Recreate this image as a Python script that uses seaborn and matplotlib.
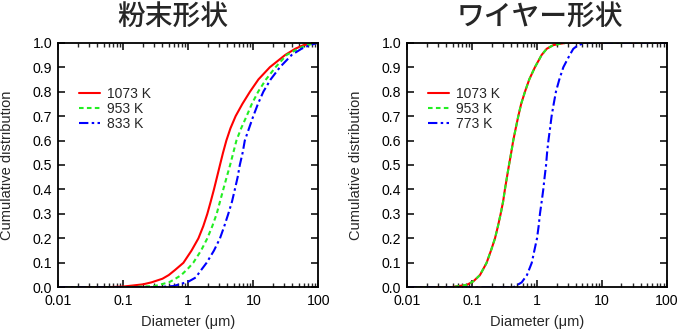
import matplotlib
matplotlib.use("Agg")
import matplotlib.pyplot as plt
import seaborn as sns
import numpy as np
from matplotlib.ticker import LogLocator, FixedLocator, FixedFormatter, NullFormatter

# ---------------- data ----------------
panel_titles = ["粉末形状", "ワイヤー形状"]
xtick_values = [0.01, 0.1, 1, 10, 100]
xtick_labels = ["0.01", "0.1", "1", "10", "100"]
ytick_values = [0.0, 0.1, 0.2, 0.3, 0.4, 0.5, 0.6, 0.7, 0.8, 0.9, 1.0]

# powder shape
powder_labels = ["1073 K", "953 K", "833 K"]
powder_1073_d = [0.01, 0.05, 0.1, 0.2, 0.27, 0.4, 0.5, 0.62, 0.84, 1.12, 1.43, 1.70, 1.96, 2.21, 2.48, 2.76, 3.07,
                 3.42, 3.85, 4.45, 5.35, 6.8, 8.9, 12, 18, 31, 44, 59, 100]
powder_1073_v = [0.0, 0.0, 0.003, 0.012, 0.02, 0.035, 0.05, 0.07, 0.10, 0.15, 0.20, 0.25, 0.30, 0.35, 0.40, 0.45, 0.50,
                 0.55, 0.60, 0.65, 0.70, 0.75, 0.80, 0.85, 0.90, 0.95, 0.975, 0.99, 1.0]
powder_953_d = [0.01, 0.1, 0.3, 0.5, 0.59, 0.78, 1.0, 1.19, 1.57, 1.96, 2.34, 2.73, 3.07, 3.45, 3.89, 4.4, 4.92,
                5.5, 6.5, 7.9, 9.5, 11.9, 15.7, 22, 32.6, 49, 66, 100]
powder_953_v = [0.0, 0.0, 0.005, 0.02, 0.03, 0.05, 0.078, 0.10, 0.15, 0.20, 0.25, 0.30, 0.35, 0.40, 0.45, 0.50, 0.55,
                0.60, 0.65, 0.70, 0.75, 0.80, 0.85, 0.90, 0.95, 0.975, 0.99, 1.0]
powder_833_d = [0.01, 0.3, 0.59, 1.0, 1.3, 1.51, 1.91, 2.48, 3.07, 3.58, 4.12, 4.7, 5.2, 5.74, 6.2, 6.85, 7.4,
                8.6, 10, 11.8, 14.3, 18.5, 25.7, 39, 55, 74, 100]
powder_833_v = [0.0, 0.0, 0.005, 0.023, 0.04, 0.064, 0.10, 0.15, 0.20, 0.25, 0.30, 0.35, 0.40, 0.45, 0.50, 0.55, 0.60,
                0.65, 0.70, 0.75, 0.80, 0.85, 0.90, 0.95, 0.975, 0.99, 1.0]

# wire shape
wire_labels = ["1073 K", "953 K", "773 K"]
wire_1073_d = [0.01, 0.046, 0.083, 0.105, 0.132, 0.167, 0.195, 0.225, 0.25, 0.275, 0.30, 0.32, 0.344, 0.37, 0.40,
               0.43, 0.47, 0.515, 0.57, 0.653, 0.76, 0.93, 1.18, 1.41, 1.78, 2.2, 2.9, 100]
wire_1073_v = [0.0, 0.0, 0.01, 0.025, 0.05, 0.10, 0.15, 0.20, 0.25, 0.30, 0.35, 0.40, 0.45, 0.50, 0.55,
               0.60, 0.65, 0.70, 0.75, 0.80, 0.85, 0.90, 0.95, 0.975, 0.99, 0.995, 1.0, 1.0]
wire_953_d = [0.01, 0.046, 0.083, 0.105, 0.132, 0.167, 0.195, 0.225, 0.25, 0.275, 0.30, 0.32, 0.344, 0.37, 0.40,
              0.43, 0.47, 0.515, 0.57, 0.653, 0.76, 0.93, 1.18, 1.41, 1.78, 2.2, 2.9, 100]
wire_953_v = [0.0, 0.0, 0.01, 0.025, 0.05, 0.10, 0.15, 0.20, 0.25, 0.30, 0.35, 0.40, 0.45, 0.50, 0.55,
              0.60, 0.65, 0.70, 0.75, 0.80, 0.85, 0.90, 0.95, 0.975, 0.99, 0.995, 1.0, 1.0]
wire_773_d = [0.01, 0.43, 0.58, 0.70, 0.83, 0.91, 1.0, 1.06, 1.11, 1.18, 1.25, 1.31, 1.38, 1.43, 1.5, 1.59, 1.68,
              1.81, 1.96, 2.21, 2.55, 3.2, 3.63, 4.3, 5.8, 100]
wire_773_v = [0.0, 0.0, 0.02, 0.05, 0.10, 0.15, 0.20, 0.25, 0.30, 0.35, 0.40, 0.45, 0.50, 0.55, 0.60, 0.65, 0.70,
              0.75, 0.80, 0.85, 0.90, 0.95, 0.975, 0.99, 1.0, 1.0]

# ---------------- styling ----------------
sns.set_style("ticks")
plt.rcParams["font.family"] = ["Liberation Sans", "DejaVu Sans", "Noto Sans CJK JP"]

colors = ["#ff0000", "#22ee22", "#0000ff"]
styles = ["-", (0, (2.2, 1.6)), (0, (4.5, 1.6, 1.2, 1.6))]

fig = plt.figure(figsize=(7.0, 3.34), dpi=100)
ax_l = fig.add_axes([58.3 / 700, 1 - 287.3 / 334, 260 / 700, 244.6 / 334])
ax_r = fig.add_axes([407.3 / 700, 1 - 287.3 / 334, 259.4 / 700, 244.6 / 334])

panels = [
    (ax_l, powder_labels, [(powder_1073_d, powder_1073_v), (powder_953_d, powder_953_v), (powder_833_d, powder_833_v)]),
    (ax_r, wire_labels, [(wire_1073_d, wire_1073_v), (wire_953_d, wire_953_v), (wire_773_d, wire_773_v)]),
]

for ax, labels, series in panels:
    ax.set_xscale("log")
    for (d, v), lab, c, ls in zip(series, labels, colors, styles):
        sns.lineplot(x=d, y=v, ax=ax, color=c, linestyle=ls, linewidth=1.5, label=lab, sort=False)
    ax.set_xlim(0.01, 100)
    ax.set_ylim(0.0, 1.0)
    ax.xaxis.set_major_locator(FixedLocator(xtick_values))
    ax.xaxis.set_major_formatter(FixedFormatter(xtick_labels))
    ax.xaxis.set_minor_locator(LogLocator(base=10, subs=np.arange(2, 10), numticks=20))
    ax.xaxis.set_minor_formatter(NullFormatter())
    ax.set_yticks(ytick_values)
    ax.set_yticklabels([f"{t:.1f}" for t in ytick_values])
    ax.tick_params(axis="both", which="major", direction="in", length=5, width=1.1,
                   top=True, right=True, labelsize=10.2, color="black", labelcolor="black")
    ax.tick_params(axis="x", which="major", pad=5)
    ax.tick_params(axis="y", which="major", pad=4.5)
    ax.tick_params(axis="x", which="minor", direction="in", length=3, width=1.0, top=True, bottom=True)
    for s in ax.spines.values():
        s.set_linewidth(1.3)
        s.set_color("black")
    ax.set_xlabel("Diameter (μm)", fontsize=10.5)
    ax.set_ylabel("Cumulative distribution", fontsize=10.5)
    ax.xaxis.set_label_coords(0.5, -0.112)
    ax.yaxis.set_label_coords(-0.172, 0.5)
    ax.legend(loc="upper left", bbox_to_anchor=(0.078, 0.82), frameon=False,
              fontsize=10, handlelength=1.55, handletextpad=0.5, labelspacing=0.08,
              borderpad=0.0, borderaxespad=0.0)
    ax.grid(False)

fig.text(173 / 700, 1 - 17 / 334, panel_titles[0], ha="center", va="center",
         fontsize=20, fontweight="medium", family=["Noto Sans CJK JP"])
fig.text(540 / 700, 1 - 17 / 334, panel_titles[1], ha="center", va="center",
         fontsize=20, fontweight="medium", family=["Noto Sans CJK JP"])

fig.savefig("out.png", dpi=100)
